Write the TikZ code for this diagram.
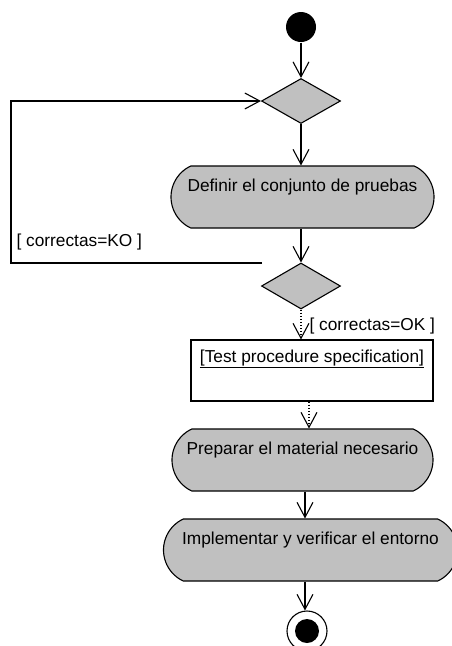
\documentclass[tikz,border=0pt]{standalone}
\usepackage{fontspec}
\setmainfont{Liberation Sans}
\usetikzlibrary{arrows.meta,shapes.geometric,shapes.misc}

\definecolor{umlgray}{HTML}{C0C0C0}

\tikzset{
  every picture/.style={line width=1.1pt},
  flow/.style={-{Straight Barb[length=15pt,width=16pt,line width=1.1pt]}},
  objflow/.style={flow, dotted},
  decision/.style={diamond, draw, fill=umlgray, inner sep=0pt,
    minimum width=79pt, minimum height=45pt},
  activity/.style={rounded rectangle, rounded rectangle arc length=130,
    draw, fill=umlgray, inner sep=0pt, minimum height=62pt,
    text height=13pt, text depth=25pt, font=\fontsize{17.3}{20}\selectfont},
  objectbox/.style={rectangle, draw, fill=white, inner sep=0pt,
    minimum width=242pt, minimum height=61pt,
    text height=13pt, text depth=30pt, font=\fontsize{17.3}{20}\selectfont},
  guard/.style={inner sep=0pt, font=\fontsize{17.3}{20}\selectfont},
  initial/.style={circle, fill=black, inner sep=0pt, minimum size=30pt},
  finalring/.style={circle, draw, fill=white, inner sep=0pt, minimum size=40pt},
  finaldot/.style={circle, fill=black, inner sep=0pt, minimum size=24pt}
}

\begin{document}
\begin{tikzpicture}[x=1pt, y=-1pt]
  \useasboundingbox[fill=white] (0,0) rectangle (452,646);

  % nodes
  \node[initial] (start) at (301,27) {};
  \node[decision] (d1) at (301,101) {};
  \node[activity, minimum width=263pt] (act1) at (302.5,197) {Definir el conjunto de pruebas};
  \node[decision, minimum height=46pt] (d2) at (301,286) {};
  \node[objectbox] (obj) at (312,370.5) {\underline{[Test procedure specification]}};
  \node[activity, minimum width=261pt] (act2) at (302.5,460) {Preparar el material necesario};
  \node[activity, minimum width=294pt] (act3) at (310.5,550) {Implementar y verificar el entorno};
  \node[finalring] (final) at (307,631) {};
  \node[finaldot] (finalin) at (final) {};

  % guard labels
  \node[guard, anchor=west] (ko) at (16,242) {[ correctas=KO ]};
  \node[guard, anchor=west] (ok) at (309,326) {[ correctas=OK ]};

  % loop back to the first decision
  \coordinate (koend) at (262,263);
  \coordinate (kocorner) at (11,263);
  \draw[flow] (koend) -- (kocorner) |- (d1.west);

  % main flow
  \draw[flow] (start) -- (d1);
  \draw[flow] (d1.south) -- (d1.south |- act1.north);
  \draw[flow] (d1.south |- act1.south) -- (d2.north);
  \draw[objflow] (d2.south) -- (d2.south |- obj.north);
  \draw[objflow] ([xshift=-3pt]obj.south) -- ([xshift=-3pt]obj.south |- act2.north);
  \draw[flow] ([xshift=2.5pt]act2.south) -- ([xshift=2.5pt]act2.south |- act3.north);
  \draw[flow] ([xshift=-2pt]final.north |- act3.south) -- ([xshift=-2pt]final.north);
\end{tikzpicture}
\end{document}
